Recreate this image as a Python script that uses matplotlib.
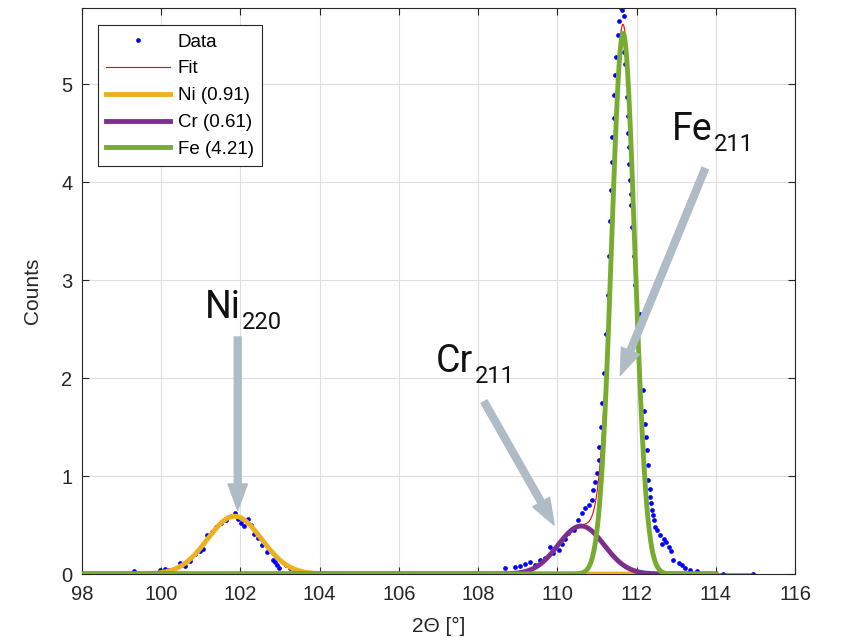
import numpy as np
import matplotlib.pyplot as plt

# ------------------ DATA ------------------
data_x = [99.31, 99.97, 100.10, 100.20, 100.47, 100.60, 100.73, 100.85, 100.98, 101.05,
          101.16, 101.27, 101.39, 101.52, 101.64, 101.77, 101.85, 101.93, 102.01, 102.10,
          102.18, 102.26, 102.35, 102.43, 102.55, 102.68, 102.81, 102.88, 102.93, 102.97,
          103.14, 103.26, 103.38,
          108.68, 108.93, 109.06, 109.19, 109.31, 109.44, 109.57, 109.69, 109.82, 109.90,
          110.03, 110.11, 110.20, 110.28, 110.41, 110.53, 110.62, 110.70, 110.79, 110.87,
          110.91, 110.95, 110.99, 111.04, 111.06, 111.09, 111.13, 111.18, 111.23, 111.27,
          111.31, 111.34, 111.36, 111.37, 111.39, 111.42, 111.43, 111.46, 111.48, 111.52,
          111.55, 111.59, 111.63, 111.67, 111.69, 111.70, 111.75, 111.78, 111.79, 111.81,
          111.82, 111.84, 111.85, 111.86, 111.89, 111.93, 111.97, 112.09, 112.16, 112.19,
          112.22, 112.23, 112.26, 112.28, 112.30, 112.33, 112.34, 112.37, 112.38, 112.41,
          112.44, 112.47, 112.51, 112.58, 112.64, 112.68, 112.75, 112.81, 112.87, 112.93,
          113.06, 113.14, 113.23, 113.35, 113.52, 114.19, 114.94]
data_y = [0.03, 0.04, 0.05, 0.04, 0.11, 0.08, 0.13, 0.20, 0.24, 0.26,
          0.40, 0.43, 0.48, 0.52, 0.55, 0.59, 0.62, 0.56, 0.52, 0.49,
          0.56, 0.50, 0.41, 0.37, 0.30, 0.22, 0.14, 0.12, 0.09, 0.06,
          0.09, 0.06, 0.03,
          0.06, 0.07, 0.08, 0.10, 0.12, 0.09, 0.14, 0.16, 0.28, 0.21,
          0.25, 0.31, 0.36, 0.42, 0.45, 0.55, 0.62, 0.67, 0.70, 0.76,
          0.86, 0.94, 1.03, 1.16, 1.30, 1.50, 1.75, 2.05, 2.45, 2.85,
          3.25, 3.60, 3.92, 4.21, 4.46, 4.66, 4.89, 5.10, 5.28, 5.50,
          5.65, 5.79, 5.76, 5.70, 5.33, 5.21, 4.87, 4.68, 4.50, 4.36,
          4.19, 4.02, 3.88, 3.77, 3.54, 3.25, 2.95, 2.66, 1.88, 1.66,
          1.53, 1.40, 1.27, 1.11, 0.96, 0.87, 0.79, 0.73, 0.65, 0.60,
          0.55, 0.48, 0.45, 0.40, 0.31, 0.36, 0.33, 0.28, 0.23, 0.14,
          0.11, 0.09, 0.06, 0.04, 0.03, 0.00, 0.00]

# fitted gaussian components
peak_names = ["Ni", "Cr", "Fe"]
peak_areas = [0.91, 0.61, 4.21]
peak_center = [101.85, 110.60, 111.66]
peak_height = [0.59, 0.49, 5.52]
peak_sigma = [0.68, 0.58, 0.294]
peak_colors = ["#EDB120", "#7E2F8E", "#77AC30"]
peak_labels = ["220", "211", "211"]

# ------------------ FIGURE ------------------
plt.rcParams['font.family'] = ['Liberation Sans', 'DejaVu Sans']
fig = plt.figure(figsize=(8.43, 6.43), dpi=100)
ax = fig.add_axes([0.0973, 0.1073, 0.8458, 0.8803])

xc = np.linspace(98, 114, 2000)
xf = np.linspace(98, data_x[-1], 2000)

def gauss(x, c, h, s):
    return h * np.exp(-(x - c) ** 2 / (2 * s ** 2))

fit = sum(gauss(xf, c, h, s) for c, h, s in zip(peak_center, peak_height, peak_sigma))

ax.plot(data_x, data_y, 'o', color='b', ms=3.4, mec='none', label='Data', zorder=2)
ax.plot(xf, fit, color='r', lw=0.8, label='Fit', zorder=3)
for name, area, c, h, s, col in zip(peak_names, peak_areas, peak_center, peak_height, peak_sigma, peak_colors):
    ax.plot(xc, gauss(xc, c, h, s), color=col, lw=3.5, label=f"{name} ({area:.2f})", zorder=4)

ax.set_xlim(98, 116)
ax.set_ylim(0, 5.78)
ax.set_xticks(np.arange(98, 117, 2))
ax.set_yticks(np.arange(0, 6, 1))
ax.grid(True, color='#DEDEDE', lw=0.8)
ax.set_axisbelow(True)
ax.tick_params(direction='in', length=5, width=0.8, top=True, right=True,
               labelsize=14.5, colors='#262626')
ax.tick_params(axis='x', pad=8)
ax.tick_params(axis='y', pad=7)
for sp in ax.spines.values():
    sp.set_color('#262626')
    sp.set_linewidth(0.8)
ax.set_xlabel("2Θ [°]", fontsize=15, color='#262626', labelpad=9)
ax.set_ylabel("Counts", fontsize=15, color='#262626', labelpad=14)

leg = ax.legend(loc='upper left', bbox_to_anchor=(0.0224, 0.97), borderaxespad=0,
                fontsize=13.5, handlelength=3.4, handletextpad=0.4, labelspacing=0.52,
                borderpad=0.45, fancybox=False, framealpha=1, edgecolor='#262626')
leg.get_frame().set_linewidth(0.8)

# ------------------ ANNOTATIONS ------------------
arrow_col = '#B0BCC5'
arrows = [((101.93, 2.42), (101.93, 0.65)),
          ((108.15, 1.76), (109.92, 0.50)),
          ((113.73, 4.14), (111.59, 2.03))]
for start, tip in arrows:
    ax.annotate('', xy=tip, xytext=start,
                arrowprops=dict(arrowstyle='simple,head_width=1.4,head_length=1.9,tail_width=0.5',
                                mutation_scale=10, color=arrow_col, shrinkA=0, shrinkB=0),
                zorder=5)

text_pos = [(101.10, 2.61), (106.94, 2.06), (112.90, 4.43)]
for name, sub, (tx, ty) in zip(peak_names, peak_labels, text_pos):
    t = ax.text(tx, ty, name, fontsize=27, family=['Roboto', 'DejaVu Sans'],
                color='#111111', va='baseline', ha='left', zorder=6)
    ax.annotate(sub, xy=(1, 0), xycoords=t, xytext=(1, -2), textcoords='offset points',
                fontsize=17, family=['Roboto', 'DejaVu Sans'], color='#111111',
                va='baseline', ha='left', zorder=6)

fig.savefig('out.png', dpi=100)
